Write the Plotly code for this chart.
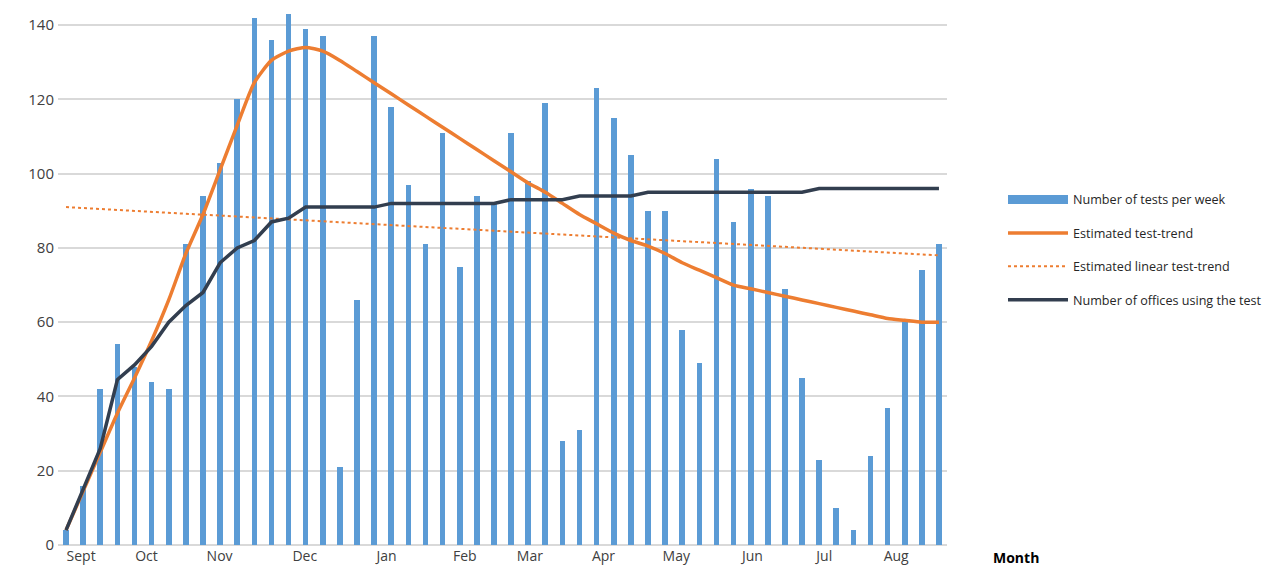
import plotly.graph_objects as go

weeks = list(range(52))
tests_per_week = [4, 16, 42, 54, 48, 44, 42, 81, 94, 103, 120, 142, 136, 143, 139, 137,
                  21, 66, 137, 118, 97, 81, 111, 75, 94, 92, 111, 98, 119, 28, 31, 123,
                  115, 105, 90, 90, 58, 49, 104, 87, 96, 94, 69, 45, 23, 10, 4, 24,
                  37, 60, 74, 81]
test_trend = [4, 14.5, 25, 35.5, 45, 55, 66, 78.5, 89, 101, 113, 124.5, 130.5, 133, 134, 133,
              130.5, 127.5, 124.5, 121.5, 118.5, 115.5, 112.5, 109.5, 106.5, 103.5, 100.5, 97.5,
              95, 92, 89, 86.5, 84, 82, 80.5, 78.5, 76, 74, 72, 70, 69, 68, 67, 66, 65, 64, 63,
              62, 61, 60.5, 60, 60]
linear_weeks = [0, 51]
linear_trend = [91, 78]
offices = [4, 15, 26, 44.5, 48.5, 53.5, 60, 64.5, 68, 76, 80, 82, 87, 88, 91, 91,
           91, 91, 91, 92, 92, 92, 92, 92, 92, 92, 93, 93, 93, 93, 94, 94,
           94, 94, 95, 95, 95, 95, 95, 95, 95, 95, 95, 95, 96, 96, 96, 96,
           96, 96, 96, 96]
month_labels = ["Sept", "Oct", "Nov", "Dec", "Jan", "Feb", "Mar", "Apr", "May", "Jun", "Jul", "Aug"]
month_tick_pos = [0.88, 4.7, 8.97, 13.95, 18.73, 23.3, 27.1, 31.4, 35.65, 40.1, 44.3, 48.5]

FONT = "Open Sans"
BLUE = "#5B9BD5"
ORANGE = "#ED7D31"
NAVY = "#323E4F"

fig = go.Figure()
fig.add_trace(go.Bar(x=weeks, y=tests_per_week, name="Number of tests per week",
                     marker=dict(color=BLUE, line=dict(width=0)), width=0.33,
                     showlegend=False, legendgroup="a"))
# legend entry for the bars, drawn as a wide block like the original
fig.add_trace(go.Scatter(x=[None], y=[None], name="Number of tests per week", mode="lines",
                         line=dict(color=BLUE, width=9), legendgroup="a", showlegend=True))
fig.add_trace(go.Scatter(x=weeks, y=test_trend, name="Estimated test-trend", mode="lines",
                         line=dict(color=ORANGE, width=3.5, shape="spline", smoothing=0.6),
                         legendgroup="b"))
fig.add_trace(go.Scatter(x=linear_weeks, y=linear_trend, name="Estimated linear test-trend",
                         mode="lines", line=dict(color=ORANGE, width=2, dash="dot"),
                         legendgroup="c"))
fig.add_trace(go.Scatter(x=weeks, y=offices, name="Number of offices using the test", mode="lines",
                         line=dict(color=NAVY, width=3.5), legendgroup="d"))

fig.update_layout(
    width=1267, height=566,
    margin=dict(l=58, r=319, t=1, b=21),
    plot_bgcolor="white", paper_bgcolor="white",
    font=dict(family=FONT, color="#404040"),
    showlegend=True,
    legend=dict(x=1.062, y=0.662, xanchor="left", yanchor="top",
                font=dict(size=12.6, color="#262626", family=FONT),
                traceorder="grouped", tracegroupgap=14, itemwidth=60,
                bgcolor="rgba(0,0,0,0)"),
    xaxis=dict(range=[-0.47, 51.47], tickmode="array", tickvals=month_tick_pos,
               ticktext=month_labels, showgrid=False, zeroline=False, showline=False,
               ticks="", tickfont=dict(size=14, color="#404040"), automargin=False,
               ticklabelstandoff=1),
    yaxis=dict(range=[0, 146.5], tickmode="array", tickvals=[0, 20, 40, 60, 80, 100, 120, 140],
               showgrid=True, gridcolor="#D9D9D9", gridwidth=1.5, zeroline=True,
               zerolinecolor="#D9D9D9", zerolinewidth=1.5, showline=False, ticks="",
               tickfont=dict(size=15, color="#404040"), automargin=False,
               ticklabelstandoff=3),
    bargap=0,
    annotations=[dict(text="<b>Month</b>", xref="paper", yref="paper", x=1.05, y=0,
                      xanchor="left", yanchor="middle", yshift=-12, showarrow=False,
                      font=dict(size=14, color="#000000", family=FONT))],
)

fig.write_html(
    "out.html",
    config={"displayModeBar": False},
    post_script="document.body.style.margin='0';document.body.style.overflow='hidden';",
)
